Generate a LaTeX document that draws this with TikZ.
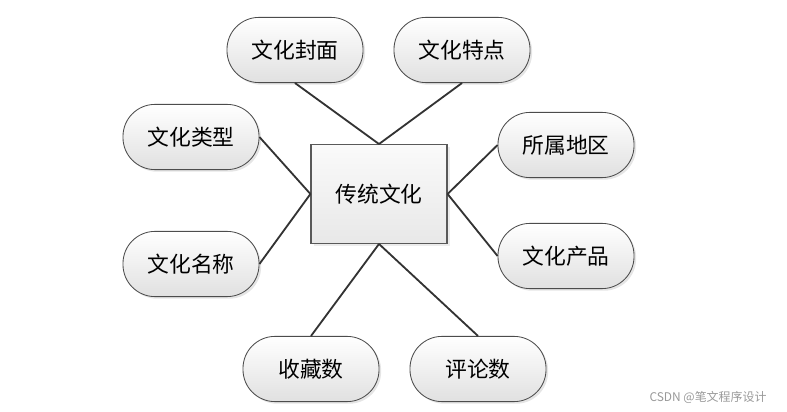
\documentclass[tikz,border=0pt]{standalone}
\usepackage{fontspec}
\newfontfamily\cjk{Noto Sans CJK SC}
\usetikzlibrary{shadows}
\begin{document}
\begin{tikzpicture}[x=0.025cm, y=-0.025cm, font=\cjk\fontsize{15.5}{18}\selectfont]
      \tikzset{attr/.style={draw=black!70, line width=0.6pt, rounded corners=0.8cm, minimum width=3.4cm, minimum height=1.63cm, top color=white, bottom color=black!12, drop shadow={shadow xshift=1.5pt, shadow yshift=-1.5pt, fill=black!20}},
        entity/.style={draw=black!65, line width=0.8pt, minimum width=3.4cm, minimum height=2.47cm, top color=black!2, bottom color=black!9, drop shadow={shadow xshift=2pt, shadow yshift=-2pt, fill=black!15}},
        link/.style={draw=black!80, line width=1.3pt}}
      \useasboundingbox (0,0) rectangle (787,412);
      \node[entity] (culture) at (379,194) {传统文化};
      \node[attr] (cover) at (295,50) {文化封面};
      \node[attr] (feature) at (462,50) {文化特点};
      \node[attr] (type) at (191,137) {文化类型};
      \node[attr] (title) at (191,264) {文化名称};
      \node[attr] (region) at (566,145) {所属地区};
      \node[attr] (product) at (566,256) {文化产品};
      \node[attr] (collect) at (311,369) {收藏数};
      \node[attr] (comment) at (478,369) {评论数};
      \draw[link] (cover.south) -- (culture.north);
      \draw[link] (feature.south) -- (culture.north);
      \draw[link] (type.east) -- (culture.west);
      \draw[link] (title.east) -- (culture.west);
      \draw[link] (region.west) -- (culture.east);
      \draw[link] (product.west) -- (culture.east);
      \draw[link] (collect.north) -- (culture.south);
      \draw[link] (comment.north) -- (culture.south);
      % watermark
      \node[text=black!40, font=\cjk\fontsize{8.5}{10}\selectfont] (mark) at (708,397) {CSDN @笔文程序设计};
    \end{tikzpicture}
\end{document}
